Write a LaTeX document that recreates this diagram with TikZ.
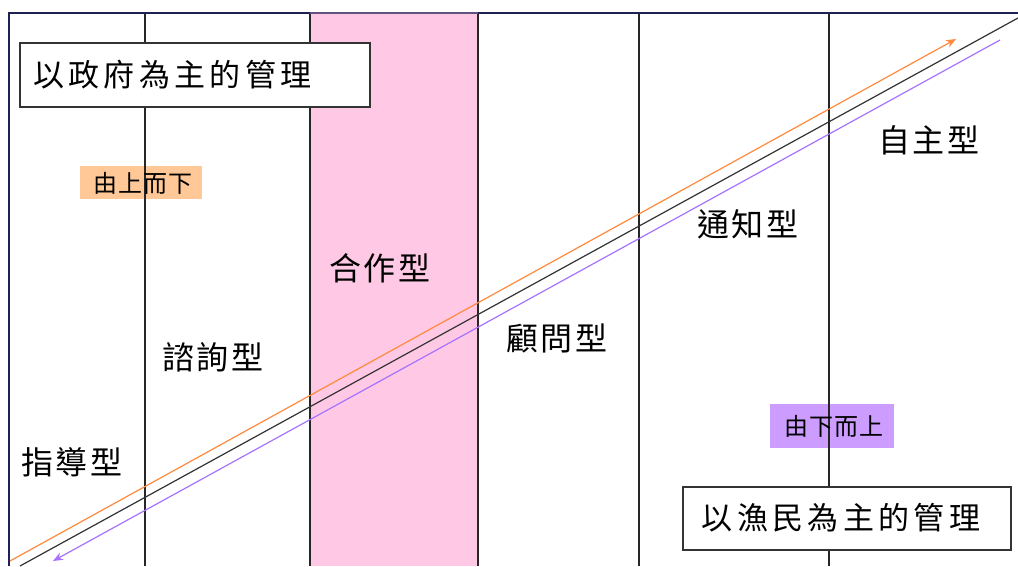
\documentclass[tikz,border=0pt]{standalone}
\usepackage{fontspec}
\usetikzlibrary{arrows.meta}
\newfontfamily\cjk[LetterSpace=8]{Noto Sans CJK TC}
\newfontfamily\cjkbox[LetterSpace=14]{Noto Sans CJK TC}
\newfontfamily\cjktag[LetterSpace=4]{Noto Sans CJK TC}
\definecolor{navy}{HTML}{1E2152}
\definecolor{pinkband}{HTML}{FFC8E4}
\definecolor{orangeline}{HTML}{FF8A3D}
\definecolor{purpleline}{HTML}{A673FF}
\definecolor{orangefill}{HTML}{FFC896}
\definecolor{purplefill}{HTML}{CC9CFF}
\tikzset{
  typelabel/.style={font=\cjk\fontsize{32}{36}\selectfont, inner sep=0pt},
  tag/.style={font=\cjktag\fontsize{24}{28}\selectfont, inner sep=0pt, text=black},
  mgmtbox/.style={draw=black!80, line width=1.2pt, fill=white},
  mgmttext/.style={font=\cjkbox\fontsize{31}{35}\selectfont, inner sep=0pt},
  divider/.style={draw=black!85, line width=1.1pt},
}
\begin{document}
\begin{tikzpicture}[x=1pt,y=-1pt]
\useasboundingbox (0,0) rectangle (1018,566);
\fill[white] (0,0) rectangle (1018,566);
% coloured tag boxes
\fill[orangefill] (80,166) rectangle (202,199);
\fill[purplefill] (770,404) rectangle (894,448);
% frame
\draw[navy, line width=2.5pt] (9,566) -- (9,13) -- (1018,13);
% pink band
\fill[pinkband] (310,14.3) rectangle (478,566);
\fill[pinkband!60!navy, opacity=0.5] (310,11.8) rectangle (478,14.3);
% dividers
\foreach \x in {145,310,478,639,829} \draw[divider] (\x,14.3) -- (\x,566);
% diagonals
\coordinate (bl) at (20,566);
\coordinate (tr) at (1018,18);
\coordinate (os) at (10,561);
\coordinate (oe) at (956,39);
\coordinate (ps) at (1000,40);
\coordinate (pe) at (53,561);
\draw[black!80, line width=1.2pt] (bl) -- (tr);
\draw[orangeline, line width=1.2pt, -{Stealth[length=10pt,width=8pt]}] (os) -- (oe);
\draw[purpleline, line width=1.2pt, -{Stealth[length=10pt,width=8pt]}] (ps) -- (pe);
% tags
\node[tag] (down) at (143,183) {由上而下};
\node[tag] (up) at (834,426) {由下而上};
% type labels
\node[typelabel] (t1) at (72,462) {指導型};
\node[typelabel] (t2) at (213,357) {諮詢型};
\node[typelabel] (t3) at (380,268) {合作型};
\node[typelabel] (t4) at (557,338) {顧問型};
\node[typelabel] (t5) at (748,224) {通知型};
\node[typelabel] (t6) at (929,140) {自主型};
% management boxes
\draw[mgmtbox] (20,43) rectangle (370,107);
\node[mgmttext, anchor=west] (gov) at (33,75) {以政府為主的管理};
\draw[mgmtbox] (683,487) rectangle (1011,550);
\node[mgmttext] (fish) at (841,518) {以漁民為主的管理};
\end{tikzpicture}
\end{document}
